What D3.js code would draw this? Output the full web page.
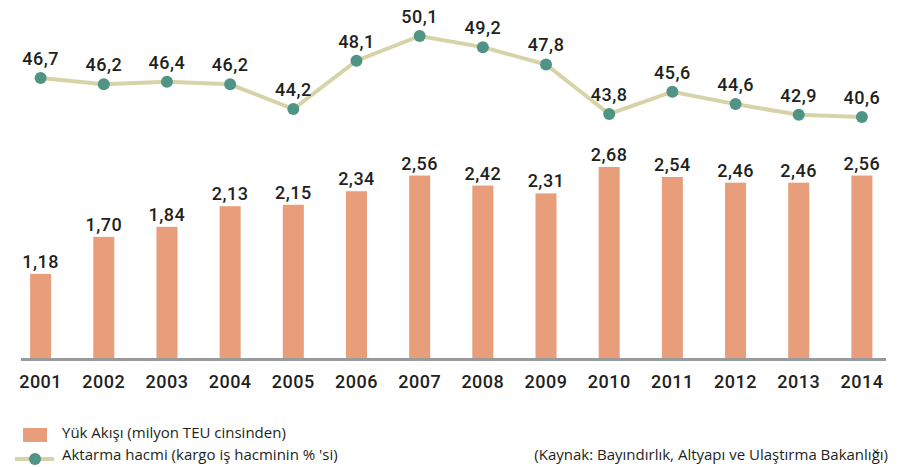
<!DOCTYPE html>
<html>
<head>
<meta charset="utf-8">
<script src="https://cdn.jsdelivr.net/npm/d3@7"></script>
<style>
  body { margin: 0; background: #fff; }
  svg text { font-family: Roboto, "DejaVu Sans", sans-serif; }
</style>
</head>
<body>
<svg id="chart" width="903" height="467"></svg>
<script>
// data
var years = ['2001', '2002', '2003', '2004', '2005', '2006', '2007', '2008', '2009', '2010', '2011', '2012', '2013', '2014'];
var yukAkisi = [1.18, 1.70, 1.84, 2.13, 2.15, 2.34, 2.56, 2.42, 2.31, 2.68, 2.54, 2.46, 2.46, 2.56];
var aktarma = [46.7, 46.2, 46.4, 46.2, 44.2, 48.1, 50.1, 49.2, 47.8, 43.8, 45.6, 44.6, 42.9, 40.6];
var legendLabels = ['Yük Akışı (milyon TEU cinsinden)', "Aktarma hacmi (kargo iş hacminin % 'si)"];
var sourceText = '(Kaynak: Bayındırlık, Altyapı ve Ulaştırma Bakanlığı)';

var svg = d3.select('#chart');
var fmt = function (v, d) { return v.toFixed(d).replace('.', ','); };

var baseY = 358;

var x = d3.scaleBand()
  .domain(years)
  .range([-1.5, 904])
  .paddingInner(0.667)
  .paddingOuter(0.5);

var yBar = d3.scaleLinear()
  .domain([0, 2.68])
  .range([baseY, 167]);

// the original line is not drawn to a single linear scale
var yLine = d3.scaleLinear()
  .domain([40.6, 43.8, 50.1])
  .range([117, 114, 36]);

var cx = function (d, i) { return x(years[i]) + x.bandwidth() / 2; };

var numStyle = function (sel) {
  sel.style('font-size', '18px')
    .style('font-weight', 500)
    .style('letter-spacing', '0.5px')
    .attr('fill', '#231f20');
};

// bars
svg.selectAll('.bar')
  .data(yukAkisi)
  .enter().append('rect')
  .attr('class', 'bar')
  .attr('x', function (d, i) { return x(years[i]); })
  .attr('width', x.bandwidth())
  .attr('y', function (d) { return yBar(d); })
  .attr('height', function (d) { return baseY - yBar(d); })
  .attr('fill', '#e89e7b');

svg.selectAll('.barLabel')
  .data(yukAkisi)
  .enter().append('text')
  .attr('class', 'barLabel')
  .attr('x', cx)
  .attr('y', function (d) { return yBar(d) - 6; })
  .attr('text-anchor', 'middle')
  .call(numStyle)
  .text(function (d) { return fmt(d, 2); });

// axis
svg.append('line')
  .attr('x1', 21).attr('x2', 886)
  .attr('y1', baseY + 1.5).attr('y2', baseY + 1.5)
  .attr('stroke', '#999a9c')
  .attr('stroke-width', 3);

var xAxis = d3.axisBottom(x).tickSize(0).tickPadding(0);
var gx = svg.append('g')
  .attr('transform', 'translate(0,' + (baseY + 30) + ')')
  .call(xAxis);
gx.select('.domain').remove();
gx.selectAll('text')
  .attr('dy', 0)
  .call(numStyle);

// line
var line = d3.line()
  .x(cx)
  .y(function (d) { return yLine(d); });

svg.append('path')
  .datum(aktarma)
  .attr('d', line)
  .attr('fill', 'none')
  .attr('stroke', '#d7d3a8')
  .attr('stroke-width', 4);

svg.selectAll('.dot')
  .data(aktarma)
  .enter().append('circle')
  .attr('class', 'dot')
  .attr('cx', cx)
  .attr('cy', function (d) { return yLine(d); })
  .attr('r', 6)
  .attr('fill', '#4f9485');

svg.selectAll('.lineLabel')
  .data(aktarma)
  .enter().append('text')
  .attr('class', 'lineLabel')
  .attr('x', cx)
  .attr('y', function (d) { return yLine(d) - 13; })
  .attr('text-anchor', 'middle')
  .call(numStyle)
  .text(function (d) { return fmt(d, 1); });

// legend
var legend = svg.append('g');
legend.append('rect')
  .attr('x', 23).attr('y', 428)
  .attr('width', 24).attr('height', 14)
  .attr('fill', '#e89e7b');
legend.append('line')
  .attr('x1', 15).attr('x2', 54)
  .attr('y1', 459).attr('y2', 459)
  .attr('stroke', '#d7d3a8')
  .attr('stroke-width', 4);
legend.append('circle')
  .attr('cx', 35).attr('cy', 459).attr('r', 6)
  .attr('fill', '#4f9485');
legend.selectAll('.legText')
  .data(legendLabels)
  .enter().append('text')
  .attr('class', 'legText')
  .attr('x', 62)
  .attr('y', function (d, i) { return 438 + i * 22; })
  .style('font-family', '"Open Sans", sans-serif')
  .style('font-size', '15px')
  .attr('fill', '#231f20')
  .text(function (d) { return d; });

svg.append('text')
  .attr('x', 888)
  .attr('y', 460)
  .attr('text-anchor', 'end')
  .style('font-family', '"Open Sans", sans-serif')
  .style('font-size', '15px')
  .attr('fill', '#231f20')
  .text(sourceText);
</script>
</body>
</html>
